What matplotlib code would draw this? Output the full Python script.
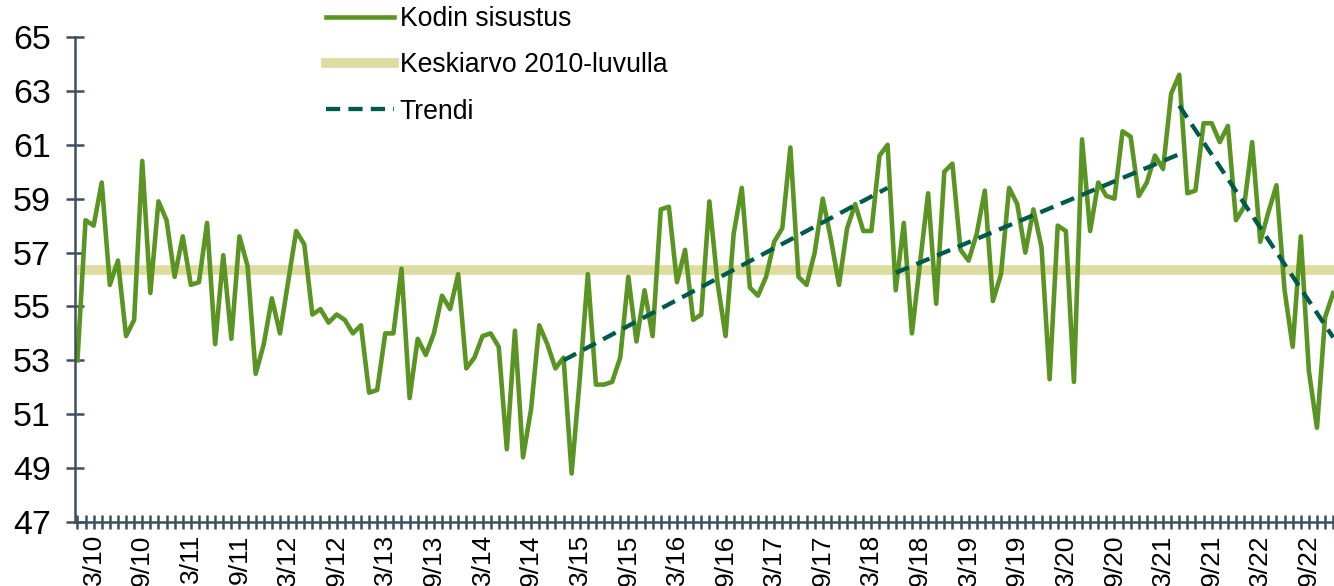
import matplotlib
matplotlib.use('Agg')
import matplotlib.pyplot as plt
import pandas as pd
import numpy as np

plt.rcParams['font.family'] = ['Liberation Sans', 'DejaVu Sans']

# kuukausittainen indeksi, tammikuu 2010 - joulukuu 2022
kodin_sisustus = [
    53.0, 58.2, 58.0, 59.6, 55.8, 56.7, 53.9, 54.5, 60.4, 55.5, 58.9, 58.2,
    56.1, 57.6, 55.8, 55.9, 58.1, 53.6, 56.9, 53.8, 57.6, 56.5, 52.5, 53.6,
    55.3, 54.0, 55.9, 57.8, 57.3, 54.7, 54.9, 54.4, 54.7, 54.5, 54.0, 54.3,
    51.8, 51.9, 54.0, 54.0, 56.4, 51.6, 53.8, 53.2, 54.0, 55.4, 54.9, 56.2,
    52.7, 53.1, 53.9, 54.0, 53.5, 49.7, 54.1, 49.4, 51.2, 54.3, 53.6, 52.7,
    53.1, 48.8, 52.3, 56.2, 52.1, 52.1, 52.2, 53.1, 56.1, 53.7, 55.6, 53.9,
    58.6, 58.7, 55.9, 57.1, 54.5, 54.7, 58.9, 55.9, 53.9, 57.7, 59.4, 55.7,
    55.4, 56.1, 57.4, 57.9, 60.9, 56.1, 55.8, 57.0, 59.0, 57.5, 55.8, 57.9,
    58.8, 57.8, 57.8, 60.6, 61.0, 55.6, 58.1, 54.0, 56.6, 59.2, 55.1, 60.0,
    60.3, 57.1, 56.7, 57.7, 59.3, 55.2, 56.2, 59.4, 58.8, 57.0, 58.6, 57.2,
    52.3, 58.0, 57.8, 52.2, 61.2, 57.8, 59.6, 59.1, 59.0, 61.5, 61.3, 59.1,
    59.6, 60.6, 60.1, 62.9, 63.6, 59.2, 59.3, 61.8, 61.8, 61.1, 61.7, 58.2,
    58.7, 61.1, 57.4, 58.5, 59.5, 55.6, 53.5, 57.6, 52.6, 50.5, 54.6, 55.5,
]
keskiarvo = 56.35

# trendiviivat: alku- ja loppukuukausi (indeksi) seka arvot
trendi_alku = [60, 101, 136]
trendi_loppu = [100, 136, 155]
trendi_alkuarvo = [53.0, 56.25, 62.45]
trendi_loppuarvo = [59.4, 60.65, 53.85]

kuukaudet = pd.date_range('2010-01-01', periods=len(kodin_sisustus), freq='MS')
x = np.arange(len(kuukaudet))
tick_labels = [f'{d.month}/{d.strftime("%y")}' if d.month in (3, 9) else '' for d in kuukaudet]

vihrea = '#5a9423'
keltainen = '#dfdca2'
tumma = '#005a4b'
akseli = '#3e4f5c'

fig = plt.figure(figsize=(13.34, 5.86), dpi=100)
ax = fig.add_axes([75 / 1334, 1 - 522 / 586, 1 - 75 / 1334, (522 - 37) / 586])

ax.axhline(keskiarvo, color=keltainen, lw=7, label='Keskiarvo 2010-luvulla', zorder=1)
ax.plot(x, kodin_sisustus, color=vihrea, lw=3.3, label='Kodin sisustus', zorder=2)
for i in range(len(trendi_alku)):
    ax.plot([trendi_alku[i], trendi_loppu[i]], [trendi_alkuarvo[i], trendi_loppuarvo[i]],
            color=tumma, lw=3.1, dashes=(3.3, 1.9), zorder=3,
            label='Trendi' if i == 0 else None)

ax.set_xlim(-0.3, 155.1)
ax.set_ylim(47, 65)
ax.set_yticks(range(47, 66, 2))
ax.set_xticks(x)
ax.set_xticklabels(tick_labels, rotation=90, fontsize=19)
ax.tick_params(axis='y', labelsize=24.5, direction='inout', length=13, width=1.8,
               color=akseli, pad=11)
ax.tick_params(axis='x', direction='inout', length=9.5, width=1.8, color=akseli, pad=4)

for s in ['top', 'right']:
    ax.spines[s].set_visible(False)
for s in ['left', 'bottom']:
    ax.spines[s].set_color(akseli)
    ax.spines[s].set_linewidth(1.8)

h, l = ax.get_legend_handles_labels()
order = [l.index('Kodin sisustus'), l.index('Keskiarvo 2010-luvulla'), l.index('Trendi')]
ax.legend([h[k] for k in order], [l[k] for k in order],
          loc='upper left', bbox_to_anchor=(326 / 1334, 1 - 6 / 586),
          bbox_transform=fig.transFigure, frameon=False, fontsize=19.2,
          handlelength=2.55, handletextpad=0.22, labelspacing=0.76,
          borderpad=0, borderaxespad=0)

fig.savefig('out.png', dpi=100)
